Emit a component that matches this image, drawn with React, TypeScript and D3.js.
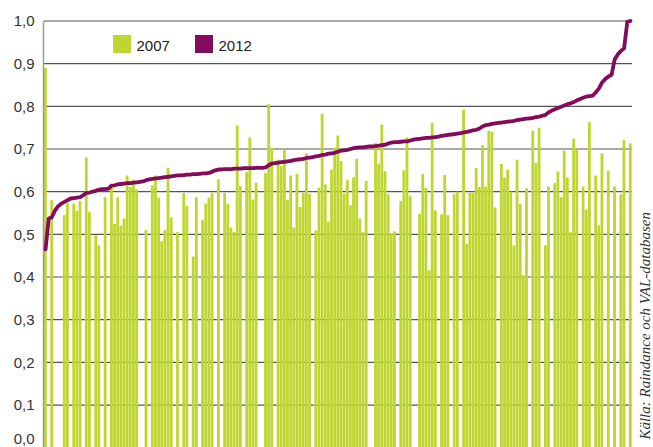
import React from 'react';
import * as d3 from 'd3';

// 2007 values per municipality (null = no value), ordered by the 2012 value
const YEAR_2007: (number | null)[] = [
  0.89, null, 0.58, null, null, null, 0.545, 0.573, null, 0.572, 0.555, 0.578, null, 0.68, 0.552, null, 0.498, 0.474, null, 0.587, null, 0.61, 0.525, 0.587, 0.52, 0.537, 0.638, 0.611, 0.627, 0.605, null, null, 0.51, null, 0.615, 0.638, 0.586, 0.484, 0.51, 0.656, 0.54, null, 0.505, null, 0.597, 0.567,
  null, 0.448, 0.587, null, 0.533, 0.572, 0.586, 0.597, null, 0.629, null, 0.597, 0.572, 0.516, 0.506, 0.755, 0.613, null, 0.646, 0.727, 0.581, 0.621, null, null, 0.644, 0.805, 0.703, null, 0.675, 0.66, 0.70, 0.58, 0.638, 0.516, 0.642, 0.564, 0.597, 0.69, 0.595, null, 0.509, 0.609, 0.783, 0.617, 0.53, 0.652, 0.703, 0.732,
  0.672, 0.595, 0.627, 0.568, 0.634, 0.677, 0.537, 0.505, 0.625, null, null, 0.714, 0.666, 0.757, 0.648, 0.594, 0.502, 0.507, null, 0.578, 0.65, 0.727, 0.589, null, null, 0.548, 0.641, 0.609, 0.416, 0.761, 0.556, null, 0.547, 0.639, 0.545, null, 0.594, 0.6, null, 0.792, 0.478, 0.597, 0.597, 0.655, 0.611, 0.709, 0.612,
  0.743, 0.74, 0.563, null, 0.665, 0.633, 0.651, 0.6, 0.474, 0.675, 0.571, 0.404, 0.608, null, 0.743, 0.667, 0.75, null, 0.474, 0.612, null, 0.62, 0.647, 0.587, 0.696, 0.633, 0.505, 0.724, 0.7, null, 0.612, 0.558, 0.763, null, 0.638, 0.521, 0.69, null, 0.649, null, 0.612, null, 0.594, 0.721, null, 0.713,
];

// 2012 values, sorted ascending
const YEAR_2012: number[] = [
  0.465, 0.537, 0.54, 0.556, 0.566, 0.572, 0.576, 0.58, 0.584, 0.585,
  0.586, 0.587, 0.592, 0.597, 0.598, 0.6, 0.602, 0.605, 0.606, 0.606,
  0.607, 0.614, 0.615, 0.617, 0.618, 0.619, 0.62, 0.62, 0.621, 0.622,
  0.623, 0.624, 0.627, 0.629, 0.63, 0.631, 0.632, 0.633, 0.634, 0.635,
  0.636, 0.637, 0.638, 0.638, 0.639, 0.64, 0.64, 0.641, 0.641, 0.642,
  0.643, 0.643, 0.644, 0.647, 0.65, 0.652, 0.652, 0.653, 0.653, 0.653,
  0.654, 0.654, 0.654, 0.655, 0.655, 0.655, 0.655, 0.656, 0.656, 0.656,
  0.657, 0.662, 0.666, 0.667, 0.668, 0.669, 0.67, 0.671, 0.672, 0.674,
  0.675, 0.676, 0.677, 0.679, 0.68, 0.681, 0.683, 0.684, 0.686, 0.687,
  0.689, 0.69, 0.691, 0.694, 0.696, 0.697, 0.698, 0.7, 0.702, 0.703,
  0.704, 0.704, 0.705, 0.706, 0.706, 0.707, 0.708, 0.709, 0.71, 0.713,
  0.715, 0.716, 0.716, 0.717, 0.718, 0.718, 0.72, 0.722, 0.723, 0.724,
  0.725, 0.726, 0.726, 0.727, 0.728, 0.729, 0.731, 0.732, 0.733, 0.734,
  0.735, 0.736, 0.737, 0.739, 0.74, 0.742, 0.744, 0.745, 0.748, 0.753,
  0.756, 0.757, 0.759, 0.76, 0.761, 0.762, 0.763, 0.764, 0.765, 0.766,
  0.768, 0.769, 0.77, 0.771, 0.772, 0.773, 0.775, 0.776, 0.778, 0.78,
  0.786, 0.79, 0.793, 0.796, 0.799, 0.802, 0.805, 0.807, 0.81, 0.814,
  0.817, 0.82, 0.823, 0.824, 0.825, 0.833, 0.842, 0.856, 0.864, 0.87,
  0.874, 0.91, 0.922, 0.93, 0.936, 0.998, 1.0,
];

const Y_TICKS = [0, 0.1, 0.2, 0.3, 0.4, 0.5, 0.6, 0.7, 0.8, 0.9, 1.0];
const SERIES = ['2007', '2012'];
const SOURCE = 'Källa: Raindance och VAL-databasen';

const GREEN = '#bfd630';
const PURPLE = '#830a5c';
const FONT = '"Liberation Sans", Arial, Helvetica, sans-serif';

export default function App() {
  const W = 653;
  const H = 447;
  const left = 44;
  const right = 632;
  const top = 21;
  const bottom = 447.7;

  const idx = d3.range(YEAR_2012.length);
  const x = d3.scaleBand<number>().domain(idx).range([left, right]).padding(0);
  const y = d3.scaleLinear().domain([0, 1]).range([bottom, top]);
  const fmt = (v: number) => d3.format('.1f')(v).replace('.', ',');

  const line = d3
    .line<number>()
    .x((_, i) => (x(i) as number) + x.bandwidth() / 2)
    .y((d) => y(d));

  const legendColors = [GREEN, PURPLE];
  const legendX = d3.scalePoint<string>().domain(SERIES).range([113, 195]);

  return (
    <svg
      width={W}
      height={H}
      style={{ position: 'absolute', left: 0, top: 0, display: 'block', background: '#fff' }}
    >
      {/* gridlines */}
      {Y_TICKS.map((t) => (
        <line
          key={'g' + t}
          x1={left}
          x2={right}
          y1={y(t)}
          y2={y(t)}
          stroke="#555"
          strokeWidth={1.2}
        />
      ))}
      {/* bars */}
      {YEAR_2007.map((v, i) =>
        v == null ? null : (
          <rect
            key={'b' + i}
            x={x(i) as number}
            y={y(v)}
            width={x.bandwidth() - 0.35}
            height={y(0) - y(v)}
            fill={GREEN}
          />
        )
      )}
      {/* y axis line */}
      <line x1={left - 0.5} x2={left - 0.5} y1={top} y2={bottom} stroke="#9a9a9a" strokeWidth={1.5} />
      {/* tick labels */}
      {Y_TICKS.map((t) => (
        <text
          key={'t' + t}
          x={34.5}
          y={Math.min(y(t), H - 8)}
          dy="0.35em"
          textAnchor="end"
          fontFamily={FONT}
          fontSize={15}
          fill="#333"
        >
          {fmt(t)}
        </text>
      ))}
      {/* 2012 line */}
      <path
        d={line(YEAR_2012) || ''}
        fill="none"
        stroke={PURPLE}
        strokeWidth={3.8}
        strokeLinejoin="round"
        strokeLinecap="round"
      />
      {/* legend */}
      {SERIES.map((s, i) => (
        <g key={'l' + s} transform={`translate(${legendX(s)},35)`}>
          <rect x={0} y={0} width={18} height={18} fill={legendColors[i]} />
          <text x={23.5} y={15.5} fontFamily={FONT} fontSize={15} fill="#222">
            {s}
          </text>
        </g>
      ))}
      {/* source */}
      <text
        transform={`translate(650,212) rotate(-90)`}
        textAnchor="end"
        fontFamily='"Liberation Serif", "Times New Roman", serif'
        fontStyle="italic"
        fontSize={15}
        fill="#333"
      >
        {SOURCE}
      </text>
    </svg>
  );
}
